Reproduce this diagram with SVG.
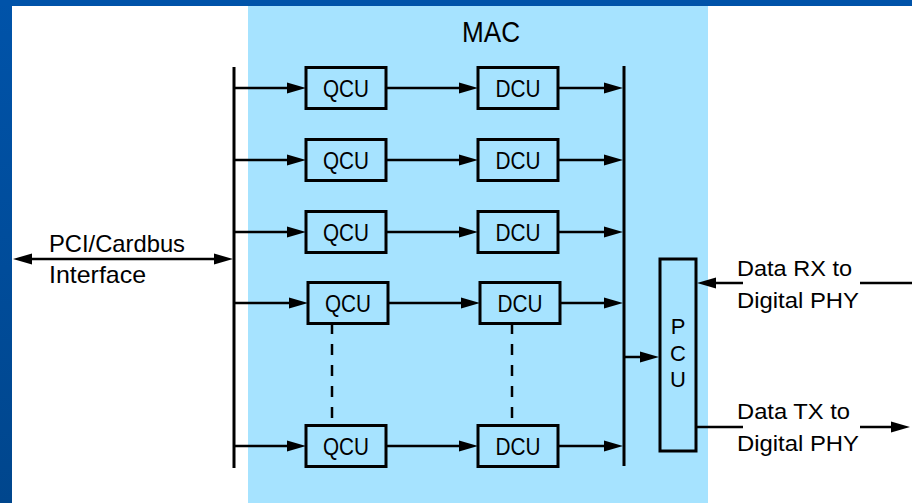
<svg xmlns="http://www.w3.org/2000/svg" width="912" height="503" viewBox="0 0 912 503">
  <defs>
    <linearGradient id="frameGrad" x1="0" y1="0" x2="0" y2="1">
      <stop offset="0" stop-color="#0053a9"/>
      <stop offset="1" stop-color="#00468d"/>
    </linearGradient>
    <marker id="arrow" markerUnits="userSpaceOnUse" markerWidth="19" markerHeight="11" refX="11" refY="5.5" orient="auto-start-reverse" overflow="visible">
      <path d="M0,0 L19,5.5 L0,11 z" fill="#000"/>
    </marker>
    <style>
      .box { fill: #a6e3ff; stroke: #000; stroke-width: 3; }
      .conn { fill: none; stroke: #000; stroke-width: 2.5; }
      .arr { marker-end: url(#arrow); }
      .bus { fill: none; stroke: #000; stroke-width: 3; }
      .dash { fill: none; stroke: #000; stroke-width: 2.5; stroke-dasharray: 11 10; }
      text { font-family: "Liberation Sans", Arial, sans-serif; fill: #000; }
      .lbl { font-size: 24px; text-anchor: middle; }
      .side { font-size: 22px; }
    </style>
  </defs>

  <!-- background and frame -->
  <rect x="0" y="0" width="912" height="503" fill="#ffffff"/>
  <rect x="248" y="6" width="460" height="497" fill="#a6e3ff"/>
  <rect x="0" y="0" width="12" height="503" fill="url(#frameGrad)"/>
  <rect x="0" y="0" width="912" height="6" fill="#0053a9"/>

  <text x="491" y="42" font-size="30" text-anchor="middle" textLength="58" lengthAdjust="spacingAndGlyphs">MAC</text>

  <!-- connectors -->
  <g id="connectors">
    <path class="bus" d="M234 67 V468"/>
    <path class="bus" d="M624 66 V466"/>

    <path class="conn" d="M21 259 H225" marker-start="url(#arrow)" marker-end="url(#arrow)"/>

    <path class="conn arr" d="M235 88 H298"/>
    <path class="conn arr" d="M235 160 H298"/>
    <path class="conn arr" d="M235 232 H298"/>
    <path class="conn arr" d="M235 303 H300"/>
    <path class="conn arr" d="M235 446 H298"/>

    <path class="conn arr" d="M386 88 H470"/>
    <path class="conn arr" d="M386 160 H470"/>
    <path class="conn arr" d="M386 232 H470"/>
    <path class="conn arr" d="M388 303 H472"/>
    <path class="conn arr" d="M386 446 H470"/>

    <path class="conn arr" d="M558 88 H615"/>
    <path class="conn arr" d="M558 160 H615"/>
    <path class="conn arr" d="M558 232 H615"/>
    <path class="conn arr" d="M560 303 H615"/>
    <path class="conn arr" d="M558 446 H615"/>

    <path class="conn arr" d="M625 357 H651"/>

    <path class="dash" d="M332 323 V425"/>
    <path class="dash" d="M512 323 V425"/>

    <path class="conn" d="M860 283 H912"/>
    <path class="conn arr" d="M743 283 H705"/>
    <path class="conn" d="M696 427 H743"/>
    <path class="conn arr" d="M860 427 H902"/>
  </g>

  <!-- QCU nodes -->
  <g id="qcu1"><rect class="box" x="306" y="67.5" width="80" height="41"/><text class="lbl" x="346" y="97" textLength="46" lengthAdjust="spacingAndGlyphs">QCU</text></g>
  <g id="qcu2"><rect class="box" x="306" y="139.5" width="80" height="41"/><text class="lbl" x="346" y="169" textLength="46" lengthAdjust="spacingAndGlyphs">QCU</text></g>
  <g id="qcu3"><rect class="box" x="306" y="211.5" width="80" height="41"/><text class="lbl" x="346" y="241" textLength="46" lengthAdjust="spacingAndGlyphs">QCU</text></g>
  <g id="qcu4"><rect class="box" x="308" y="282.5" width="80" height="41"/><text class="lbl" x="348" y="312" textLength="46" lengthAdjust="spacingAndGlyphs">QCU</text></g>
  <g id="qcu5"><rect class="box" x="306" y="425.5" width="80" height="41"/><text class="lbl" x="346" y="455" textLength="46" lengthAdjust="spacingAndGlyphs">QCU</text></g>

  <!-- DCU nodes -->
  <g id="dcu1"><rect class="box" x="478" y="67.5" width="80" height="41"/><text class="lbl" x="518" y="97" textLength="45" lengthAdjust="spacingAndGlyphs">DCU</text></g>
  <g id="dcu2"><rect class="box" x="478" y="139.5" width="80" height="41"/><text class="lbl" x="518" y="169" textLength="45" lengthAdjust="spacingAndGlyphs">DCU</text></g>
  <g id="dcu3"><rect class="box" x="478" y="211.5" width="80" height="41"/><text class="lbl" x="518" y="241" textLength="45" lengthAdjust="spacingAndGlyphs">DCU</text></g>
  <g id="dcu4"><rect class="box" x="480" y="282.5" width="80" height="41"/><text class="lbl" x="520" y="312" textLength="45" lengthAdjust="spacingAndGlyphs">DCU</text></g>
  <g id="dcu5"><rect class="box" x="478" y="425.5" width="80" height="41"/><text class="lbl" x="518" y="455" textLength="45" lengthAdjust="spacingAndGlyphs">DCU</text></g>

  <!-- PCU node -->
  <g id="pcu">
    <rect class="box" x="660" y="259" width="36" height="192"/>
    <text x="678" y="334" font-size="22" text-anchor="middle">P</text>
    <text x="678" y="361" font-size="22" text-anchor="middle">C</text>
    <text x="678" y="387" font-size="22" text-anchor="middle">U</text>
  </g>

  <!-- external labels -->
  <g id="pci">
    <text x="49" y="252" font-size="24" textLength="136" lengthAdjust="spacingAndGlyphs">PCI/Cardbus</text>
    <text x="49" y="283" font-size="24" textLength="97" lengthAdjust="spacingAndGlyphs">Interface</text>
  </g>
  <g id="rx">
    <text class="side" x="737" y="276" textLength="115" lengthAdjust="spacingAndGlyphs">Data RX to</text>
    <text class="side" x="737" y="308" textLength="122" lengthAdjust="spacingAndGlyphs">Digital PHY</text>
  </g>
  <g id="tx">
    <text class="side" x="737" y="419" textLength="113" lengthAdjust="spacingAndGlyphs">Data TX to</text>
    <text class="side" x="737" y="451" textLength="122" lengthAdjust="spacingAndGlyphs">Digital PHY</text>
  </g>
</svg>
